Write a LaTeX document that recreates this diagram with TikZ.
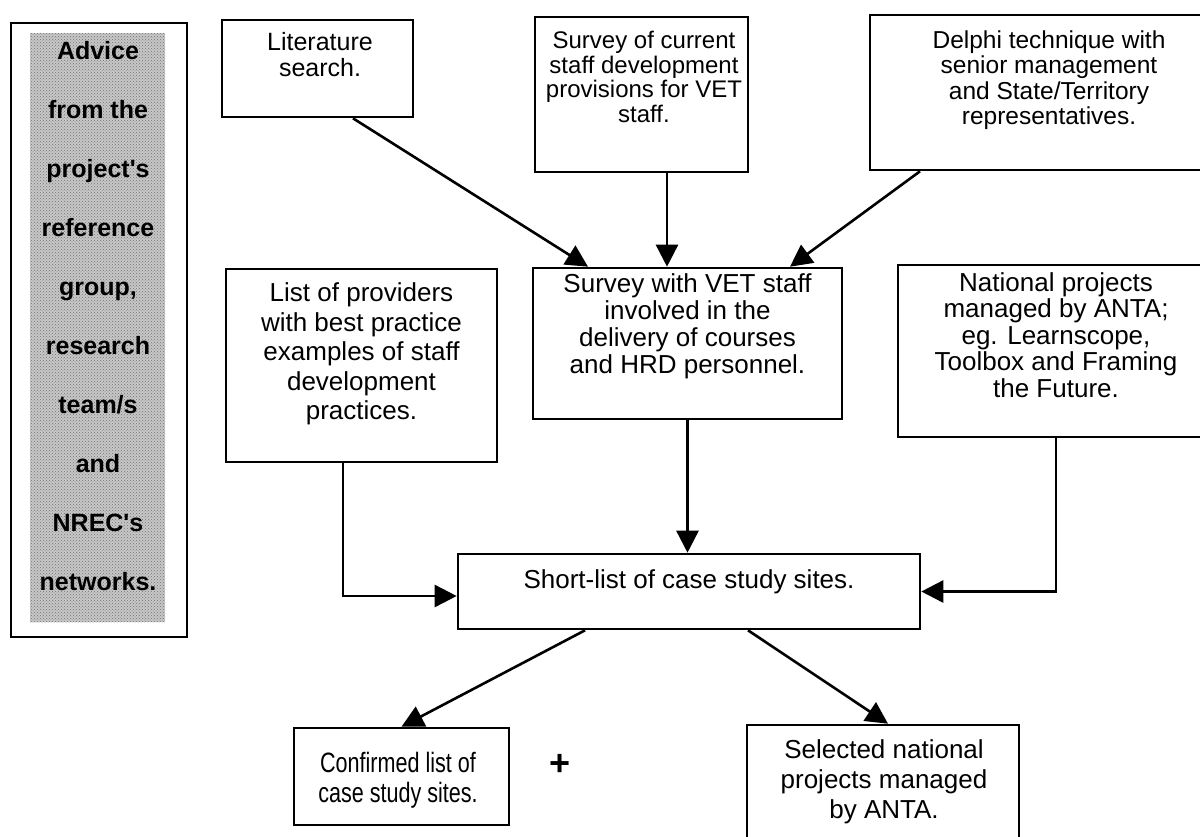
\documentclass[tikz,border=0pt]{standalone}
\usepackage{fontspec}
\setmainfont{Liberation Sans}
\newfontfamily\narrowsans[FakeStretch=0.77]{Liberation Sans}
\usetikzlibrary{arrows.meta,patterns}
\newcommand{\apos}{\textquotesingle}
\begin{document}
\begin{tikzpicture}[x=1pt,y=-1pt,
  box/.style={draw=black, line width=2.6pt, fill=white, inner sep=0pt},
  txt/.style={align=center, inner sep=0pt},
  arr/.style={line width=2.6pt, -{Triangle[length=22pt,width=22pt]}},
  sidetext/.style={align=center, inner sep=0pt,
    font=\fontsize{25}{59}\selectfont\bfseries},
]
\useasboundingbox (0,0) rectangle (1200,836);
\fill[white] (0,0) rectangle (1200,836);
\clip (0,0) rectangle (1200,836);

% side panel: advice sources
\node[draw=black, line width=2.4pt, minimum width=176pt, minimum height=614pt,
      inner sep=0pt] (advframe) at (99,330) {};
\node[preaction={fill=black!22}, pattern=crosshatch dots, pattern color=black!55,
      minimum width=135pt, minimum height=589pt, inner sep=0pt]
      (advfill) at (97.5,327.5) {};
\node[sidetext] (advtext) at (98,316)
  {Advice\\from the\\project\apos s\\reference\\group,\\research\\team/s\\and\\NREC\apos s\\networks.};

% top row
\node[box, minimum width=191pt, minimum height=97pt] (lit) at (317.5,68.5) {};
\node[txt, font=\fontsize{25}{26}\selectfont] (lit-t) at (320,55)
  {Literature\\search.};

\node[box, minimum width=213pt, minimum height=155pt] (cur) at (641.5,94.5) {};
\node[txt, font=\fontsize{24}{24.5}\selectfont] (cur-t) at (644,77)
  {Survey of current\\staff development\\provisions for VET\\staff.};

\node[box, minimum width=358pt, minimum height=155pt] (del) at (1049,92.5) {};
\node[txt, font=\fontsize{24.5}{25.5}\selectfont] (del-t) at (1049,80)
  {Delphi technique with\\senior management\\and State/Territory\\representatives.};

% middle row
\node[box, minimum width=271pt, minimum height=193pt] (list) at (361.5,365.5) {};
\node[txt, font=\fontsize{26}{29.5}\selectfont] (list-t) at (361.5,354)
  {List of providers\\with best practice\\examples of staff\\development\\practices.};

\node[box, minimum width=309pt, minimum height=151pt] (sw) at (687.5,343.5) {};
\node[txt, font=\fontsize{26}{27}\selectfont] (sw-t) at (687.5,326)
  {Survey with VET staff\\involved in the\\delivery of courses\\and HRD personnel.};

\node[box, minimum width=316pt, minimum height=172pt] (nat) at (1056,351) {};
\node[txt, font=\fontsize{26}{26.5}\selectfont] (nat-t) at (1056,335)
  {National projects\\managed by ANTA;\\eg. Learnscope,\\Toolbox and Framing\\the Future.};

% short-list
\node[box, minimum width=462pt, minimum height=75pt] (short) at (689,591.5) {};
\node[txt, font=\fontsize{26}{27}\selectfont] (short-t) at (689,582)
  {Short-list of case study sites.};

% outcomes
\node[box, minimum width=215pt, minimum height=97pt] (conf) at (401.5,776.5) {};
\node[txt, font=\fontsize{28}{30}\narrowsans] (conf-t) at (398,780)
  {Confirmed list of\\case study sites.};

\node[box, minimum width=272pt, minimum height=130pt] (sel) at (883,790) {};
\node[txt, font=\fontsize{26}{30}\selectfont] (sel-t) at (884,782)
  {Selected national\\projects managed\\by ANTA.};

\node[inner sep=0pt, font=\fontsize{36}{36}\selectfont\bfseries] (plus) at (560,765) {+};

% connectors
\draw[arr] ([xshift=35.5pt]lit.south) -- ([xshift=-99.5pt]sw.north);
\draw[arr] ([xshift=25.5pt]cur.south) -- ([xshift=-20.5pt]sw.north);
\draw[arr] ([xshift=-129pt]del.south) -- ([xshift=102.5pt]sw.north);

\draw[arr] ([xshift=-18.5pt]list.south) |- ([yshift=-4.5pt]short.west);
\draw[arr] (sw.south) -- (sw.south |- short.north);
\draw[arr] (nat.south) |- (short.east);

\draw[arr] ([xshift=-104pt]short.south) -- (conf.north);
\draw[arr] ([xshift=59pt]short.south) -- ([xshift=5pt]sel.north);
\end{tikzpicture}
\end{document}
